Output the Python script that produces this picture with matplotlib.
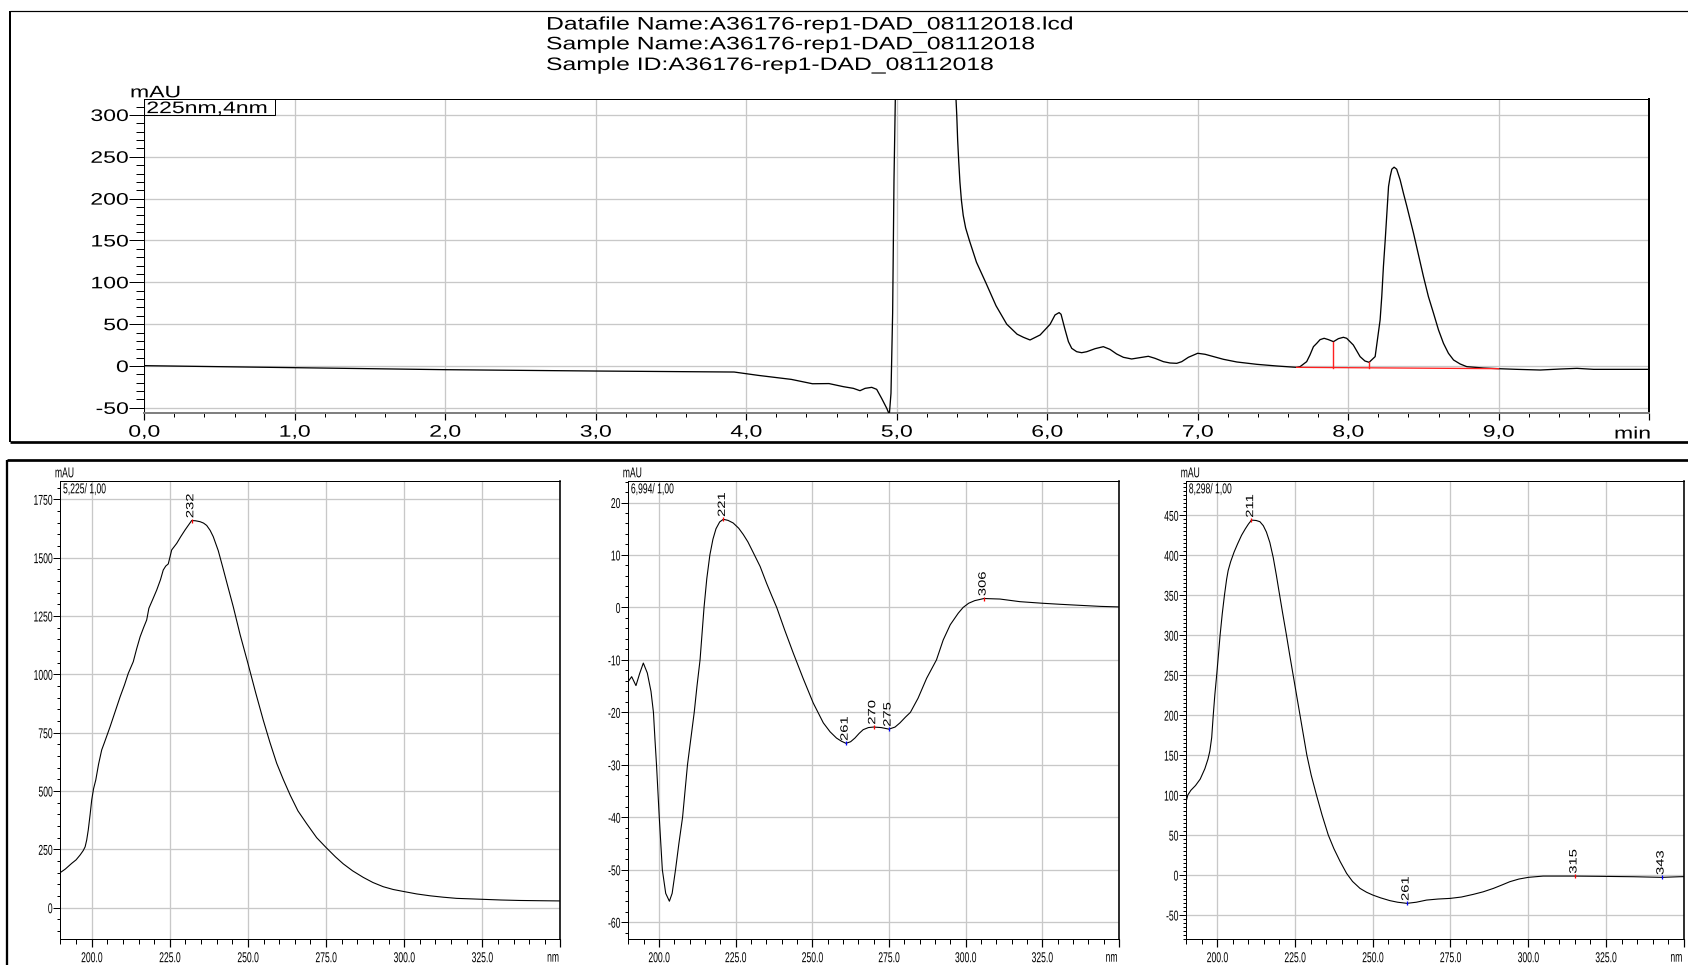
import numpy as np
import matplotlib
matplotlib.use("Agg")
import matplotlib.pyplot as plt
from matplotlib.patheffects import AbstractPathEffect
from matplotlib.transforms import Affine2D
from matplotlib.ticker import FixedLocator, MultipleLocator, FuncFormatter
from matplotlib.lines import Line2D
from matplotlib.patches import Rectangle

plt.rcParams['font.family'] = ['Liberation Sans', 'DejaVu Sans']
plt.rcParams['axes.unicode_minus'] = False

# ---------------- header ----------------
HEADER_LINES = [
    "Datafile Name:A36176-rep1-DAD_08112018.lcd",
    "Sample Name:A36176-rep1-DAD_08112018",
    "Sample ID:A36176-rep1-DAD_08112018",
]
CHANNEL_LABEL = "225nm,4nm"

# ---------------- chromatogram (min, mAU) ----------------
CHROM_T = [0.0, 0.48, 1.0, 2.0, 3.0, 3.92, 4.08, 4.30, 4.44, 4.55, 4.646, 4.712,
           4.756, 4.790, 4.834, 4.867, 4.900, 4.934, 4.951, 4.962, 4.973, 4.982,
           4.991, 5.0, 5.05, 5.1, 5.2, 5.3, 5.36, 5.394, 5.399, 5.405, 5.412,
           5.420, 5.430, 5.442, 5.458, 5.483, 5.53, 5.591, 5.66, 5.731, 5.80,
           5.842, 5.886, 5.953, 6.019, 6.052, 6.079, 6.092, 6.118, 6.141, 6.163,
           6.196, 6.229, 6.263, 6.318, 6.373, 6.417, 6.461, 6.506, 6.561, 6.617,
           6.672, 6.716, 6.772, 6.816, 6.861, 6.894, 6.938, 7.000, 7.049, 7.105,
           7.171, 7.260, 7.393, 7.526, 7.657, 7.680, 7.724, 7.746, 7.769, 7.791,
           7.813, 7.840, 7.869, 7.902, 7.935, 7.968, 7.990, 8.012, 8.034, 8.056,
           8.079, 8.111, 8.139, 8.179, 8.212, 8.223, 8.234, 8.246, 8.257, 8.268,
           8.279, 8.290, 8.305, 8.322, 8.345, 8.367, 8.390, 8.412, 8.434, 8.467,
           8.500, 8.533, 8.567, 8.600, 8.633, 8.666, 8.700, 8.744, 8.788, 8.899,
           8.999, 9.121, 9.276, 9.409, 9.520, 9.631, 9.786, 10.0]
CHROM_MAU = [0.4, -0.8, -2.0, -4.4, -6.0, -7.2, -11.2, -16.0, -21.2, -21.0, -24.7,
             -26.7, -29.5, -26.7, -25.5, -27.9, -38.7, -50.6, -58.0, -32.7, 63.0,
             222.0, 318.0, 420.0, 1050.0, 1420.0, 1560.0, 1100.0, 600.0, 319.0,
             300.0, 270.0, 245.0, 220.0, 198.0, 180.0, 165.0, 150.0, 124.0, 100.0,
             72.0, 50.0, 38.0, 34.3, 31.1, 37.1, 49.8, 61.0, 63.8, 61.8, 43.9, 29.1,
             21.1, 17.1, 15.9, 17.1, 20.7, 23.1, 19.9, 14.4, 10.4, 8.4, 10.0, 11.6,
             9.2, 5.2, 3.6, 3.2, 5.2, 10.4, 15.2, 14.0, 11.2, 8.0, 4.8, 2.0, 0.0,
             -1.6, -0.8, 5.2, 13.2, 23.1, 27.1, 31.5, 33.1, 31.5, 29.1, 32.7, 34.3,
             33.1, 29.1, 25.1, 18.3, 11.2, 6.0, 4.4, 11.2, 55.0, 83.0, 118.8, 150.7,
             182.6, 214.5, 226.5, 235.2, 237.6, 235.2, 222.5, 206.5, 190.6, 174.6,
             158.7, 132.8, 106.9, 82.9, 63.0, 43.1, 27.1, 15.2, 7.2, 2.4, -0.8,
             -2.4, -3.2, -4.0, -4.8, -3.6, -2.8, -4.0, -4.0, -4.0]

# integration baseline and peak drop lines
BASE_T = [7.657, 9.0]
BASE_MAU = [-1.6, -3.2]
DROP_T = [7.902, 8.139]

# ---------------- spectra (nm, mAU) ----------------
SPEC1_TITLE = "5,225/ 1,00"
SPEC1_NM = [190, 191.5, 193.6, 195, 196.3, 197.3, 197.9, 198.4, 198.9, 199.5, 200,
            200.6, 201.3, 202.2, 203.2, 204, 205.9, 207.5, 209.1, 210.5, 211.7,
            213.3, 214.4, 215.5, 216.6, 217.6, 218.3, 219.5, 220.8, 222, 222.9,
            223.7, 224.5, 225, 225.6, 227.2, 228.5, 229.9, 231, 232, 233.2, 234.7,
            235.8, 236.8, 237.9, 238.9, 240.5, 241.9, 243.5, 245.3, 247.5, 250,
            252.5, 254.9, 257, 259.2, 261.3, 263.5, 266, 268.8, 272, 275, 278,
            280.5, 283.5, 286.9, 290, 293.3, 296.5, 300, 304, 308.3, 312.5, 316.8,
            321, 325, 331, 337, 343, 350]
SPEC1_MAU = [151, 165, 190, 205, 226, 245, 261, 290, 333, 400, 461, 510, 547, 615,
             676, 705, 776, 840, 904, 955, 1004, 1054, 1110, 1161, 1200, 1233, 1283,
             1320, 1361, 1405, 1447, 1464, 1473, 1500, 1533, 1561, 1590, 1619, 1640,
             1659, 1658, 1654, 1648, 1638, 1617, 1590, 1530, 1461, 1380, 1290, 1170,
             1047, 920, 804, 710, 619, 550, 483, 415, 360, 300, 258, 218, 188, 158,
             130, 108, 90, 78, 69, 59, 51, 45, 40, 38, 36, 33, 31, 30, 29]
SPEC1_PEAKS = [232]
SPEC1_KIND = ['max']

SPEC2_TITLE = "6,994/ 1,00"
SPEC2_NM = [190, 191.1, 192.5, 193.7, 194.9, 196.2, 197.4, 198.2, 198.7, 199.2,
            200.1, 201.1, 202.2, 203.4, 204.3, 205.4, 206.5, 207.7, 209.3, 210.4,
            211.5, 212.4, 213.4, 214.7, 215.6, 216.6, 217.6, 218.6, 219.8, 221,
            222.5, 224.2, 226, 227.5, 229, 230.8, 233, 235.1, 236.8, 238.4, 241,
            243.8, 247, 250.3, 253.6, 255.8, 257.9, 259.5, 261, 262.5, 263.9, 265.3,
            266.6, 268.3, 270, 272.5, 275, 277, 278.6, 280.4, 282, 284.5, 287.3,
            290.5, 292.7, 295, 297.6, 299.2, 301, 303, 306, 311.2, 317.7, 325,
            330.8, 337.3, 344, 350]
SPEC2_MAU = [-14.1, -13.2, -14.9, -12.6, -10.6, -12.5, -16.0, -20.0, -25.2, -30.0,
             -40.0, -50.0, -54.5, -56.0, -54.5, -50.0, -45.0, -40.0, -30.0, -25.0,
             -20.0, -15.0, -10.0, 0.0, 5.5, 10.0, 13.0, 15.0, 16.3, 16.8, 16.6, 16.1,
             15.1, 13.9, 12.5, 10.4, 7.8, 4.6, 2.2, 0.0, -4.3, -8.7, -13.5, -18.2,
             -22.0, -23.7, -24.9, -25.5, -25.9, -25.6, -24.9, -24.0, -23.3, -22.9,
             -22.8, -22.9, -23.2, -22.8, -22.0, -20.9, -20.0, -17.3, -13.5, -10.0,
             -6.2, -3.3, -1.1, 0.0, 0.8, 1.3, 1.7, 1.6, 1.1, 0.8, 0.6, 0.4, 0.2, 0.1]
SPEC2_PEAKS = [221, 261, 270, 275, 306]
SPEC2_KIND = ['max', 'min', 'max', 'min', 'max']

SPEC3_TITLE = "8,298/ 1,00"
SPEC3_NM = [190, 190.5, 191.5, 193, 194.5, 196, 197, 197.6, 198.2, 198.7, 199.2,
            199.8, 200.4, 200.9, 201.6, 202.3, 203, 203.5, 204.3, 205.4, 206.5,
            207.8, 209, 210, 211, 212.5, 213.7, 214.8, 215.8, 216.9, 218, 219,
            219.8, 221, 222.2, 223.3, 224.4, 225.5, 226.6, 227.7, 228.8, 230.2,
            231.9, 233.7, 235.7, 237.5, 239.5, 241.6, 243.5, 245.9, 248, 250, 252.5,
            255.5, 258, 261, 264, 267.3, 271, 274.9, 278.5, 282.3, 285.5, 288.8,
            291.5, 294.1, 297, 300, 304.8, 315, 325, 333.8, 343, 348.8, 350]
SPEC3_MAU = [92, 100, 106, 112, 120, 133, 145, 155, 172, 200, 225, 250, 277, 300,
             327, 350, 370, 381, 392, 404, 414, 425, 433, 439, 444, 443.5, 442, 437,
             429, 416, 397, 375, 356, 328, 301, 275, 250, 225, 200, 175, 150, 125,
             100, 75, 50, 33, 17, 2, -8, -16.7, -21.5, -25, -28.5, -32, -34, -35.4,
             -34, -31.3, -30, -29.2, -27.5, -24.2, -21, -16.7, -12.5, -8.3, -5, -2.9,
             -1.3, -1.3, -1.7, -2.1, -2.9, -2.1, -2.0]
SPEC3_PEAKS = [211, 261, 315, 343]
SPEC3_KIND = ['max', 'min', 'max', 'min']

# ---------------- layout helpers (pixels) ----------------
W, H, DPI = 1688, 965, 100
PX = 72.0 / DPI  # points per pixel


def fx(px):
    return px / W


def fy(py):
    return 1.0 - py / H


class Stretch(AbstractPathEffect):
    """Scale glyph outlines along the writing direction of a text."""

    def __init__(self, sx, anchor='left'):
        super().__init__()
        self.sx = sx
        self.anchor = anchor

    def draw_path(self, renderer, gc, tpath, affine, rgbFace=None):
        if len(tpath.vertices) == 0:
            return
        ext = tpath.get_extents()
        x0 = {'left': 0.0,
              'center': 0.5 * (ext.x0 + ext.x1),
              'right': ext.x1}[self.anchor]
        pre = Affine2D().translate(-x0, 0).scale(self.sx, 1.0).translate(x0, 0)
        renderer.draw_path(gc, tpath, pre + affine, rgbFace)


TOP_FS, TOP_SX = 12.0, 1.38
HEAD_FS, HEAD_SX = 13.0, 1.37
BOT_FS, BOT_SX = 10.3, 0.60
PK_FS, PK_SX = 7.6, 1.4
GRID_C = '#c8c8c8'

fig = plt.figure(figsize=(W / DPI, H / DPI), dpi=DPI)
fig.patch.set_facecolor('white')


def frame_line(x0, y0, x1, y1, lw_px):
    fig.add_artist(Line2D([fx(x0), fx(x1)], [fy(y0), fy(y1)],
                          transform=fig.transFigure, color='black',
                          lw=lw_px * PX, solid_capstyle='butt'))


# report frames
frame_line(10, 11, 1700, 11, 1.2)
frame_line(10, 11, 10, 442, 2.0)
frame_line(10, 442, 1700, 442, 2.7)
frame_line(7.3, 460, 1700, 460, 2.7)
frame_line(7.3, 460, 7.3, 1000, 2.3)

# header text
for line, base in zip(HEADER_LINES, [29.5, 49.3, 70.0]):
    fig.text(fx(546.0), fy(base), line, fontsize=HEAD_FS, ha='left', va='baseline',
             path_effects=[Stretch(HEAD_SX, 'left')])

# ---------------- chromatogram ----------------
ax = fig.add_axes([fx(144.2), fy(412.7), 1505 / W, 313.4 / H])
ax.set_axisbelow(True)
ax.plot(CHROM_T, CHROM_MAU, color='black', lw=1.3 * PX, zorder=3)

ax.plot(BASE_T, BASE_MAU, color='#ff2020', lw=1.3 * PX, zorder=4)
for t in DROP_T:
    y_top = np.interp(t, CHROM_T, CHROM_MAU)
    y_bot = np.interp(t, BASE_T, BASE_MAU)
    ax.plot([t, t], [y_bot, y_top], color='#ff2020', lw=1.4 * PX, zorder=4)

ax.set_xlim(0, 10)
ax.set_ylim(-55.8, 318.7)
ax.xaxis.set_major_locator(FixedLocator(np.arange(0, 11, 1.0)))
ax.xaxis.set_minor_locator(MultipleLocator(0.2))
ax.yaxis.set_major_locator(FixedLocator(np.arange(-50, 301, 50)))
ax.yaxis.set_minor_locator(MultipleLocator(10))
ax.xaxis.set_major_formatter(FuncFormatter(
    lambda v, p: '' if v > 9.5 else f"{v:.1f}".replace('.', ',')))
ax.yaxis.set_major_formatter(FuncFormatter(lambda v, p: f"{v:.0f}"))
ax.grid(True, which='major', color=GRID_C, lw=1.3 * PX)
ax.tick_params(axis='y', which='major', direction='out', length=15 * PX,
               width=1.0 * PX, pad=0.5, labelsize=TOP_FS)
ax.tick_params(axis='y', which='minor', direction='out', length=8 * PX, width=1.0 * PX)
ax.tick_params(axis='x', which='major', direction='out', length=6.7 * PX,
               width=1.2 * PX, pad=3.8, labelsize=TOP_FS)
ax.tick_params(axis='x', which='minor', direction='out', length=4 * PX, width=1.0 * PX)
for side, lw_px, c in [('top', 1.0, 'black'), ('left', 1.0, 'black'),
                       ('right', 2.0, 'black'), ('bottom', 2.0, '#808080')]:
    ax.spines[side].set_linewidth(lw_px * PX)
    ax.spines[side].set_color(c)
for lab in ax.get_yticklabels():
    lab.set_path_effects([Stretch(TOP_SX, 'right')])
for lab in ax.get_xticklabels():
    lab.set_path_effects([Stretch(TOP_SX, 'center')])

ax.add_patch(Rectangle((0, 0.9499), 0.0869, 0.0501, transform=ax.transAxes,
                       fill=False, lw=1.0 * PX, ec='black', clip_on=False, zorder=5))
ax.text(0.0014, 0.9560, CHANNEL_LABEL, transform=ax.transAxes, fontsize=TOP_FS,
        ha='left', va='baseline', path_effects=[Stretch(TOP_SX, 'left')])
fig.text(fx(130), fy(97.3), "mAU", fontsize=TOP_FS, ha='left', va='baseline',
         path_effects=[Stretch(TOP_SX, 'left')])
fig.text(fx(1614), fy(438.5), "min", fontsize=TOP_FS, ha='left', va='baseline',
         path_effects=[Stretch(TOP_SX, 'left')])

# ---------------- spectra ----------------
panels = [
    dict(left=60.45, right=560.4, ylim=(-134.1, 1828.4), minor=50,
         ymaj=np.arange(0, 1751, 250), nm=SPEC1_NM, mau=SPEC1_MAU,
         peaks=SPEC1_PEAKS, kind=SPEC1_KIND, title=SPEC1_TITLE),
    dict(left=628.3, right=1118.9, ylim=(-63.2, 24.1), minor=2,
         ymaj=np.arange(-60, 21, 10), nm=SPEC2_NM, mau=SPEC2_MAU,
         peaks=SPEC2_PEAKS, kind=SPEC2_KIND, title=SPEC2_TITLE),
    dict(left=1186.2, right=1683.7, ylim=(-80.0, 492.9), minor=5,
         ymaj=np.arange(-50, 451, 50), nm=SPEC3_NM, mau=SPEC3_MAU,
         peaks=SPEC3_PEAKS, kind=SPEC3_KIND, title=SPEC3_TITLE),
]

for p in panels:
    bx = fig.add_axes([fx(p['left']), fy(939), (p['right'] - p['left']) / W, 458 / H])
    bx.set_axisbelow(True)
    bx.plot(p['nm'], p['mau'], color='black', lw=1.1 * PX, zorder=3)
    bx.set_xlim(190, 350)
    bx.set_ylim(*p['ylim'])
    bx.xaxis.set_major_locator(FixedLocator(np.arange(200, 351, 25)))
    bx.xaxis.set_minor_locator(MultipleLocator(5))
    bx.yaxis.set_major_locator(FixedLocator(p['ymaj']))
    bx.yaxis.set_minor_locator(MultipleLocator(p['minor']))
    bx.xaxis.set_major_formatter(FuncFormatter(
        lambda v, q: '' if v > 340 else f"{v:.1f}"))
    bx.yaxis.set_major_formatter(FuncFormatter(lambda v, q: f"{v:.0f}"))
    bx.grid(True, which='major', color=GRID_C, lw=1.3 * PX)
    bx.tick_params(axis='y', which='major', direction='out', length=7 * PX,
                   width=1.0 * PX, pad=0.5, labelsize=BOT_FS)
    bx.tick_params(axis='y', which='minor', direction='out', length=3.3 * PX,
                   width=1.0 * PX)
    bx.tick_params(axis='x', which='major', direction='out', length=8 * PX,
                   width=1.2 * PX, pad=3.0, labelsize=BOT_FS)
    bx.tick_params(axis='x', which='minor', direction='out', length=5 * PX,
                   width=1.0 * PX)
    for side in ['top', 'left', 'bottom']:
        bx.spines[side].set_linewidth(1.0 * PX)
    bx.spines['right'].set_linewidth(1.6 * PX)
    for lab in bx.get_yticklabels():
        lab.set_path_effects([Stretch(BOT_SX, 'right')])
    for lab in bx.get_xticklabels():
        lab.set_path_effects([Stretch(BOT_SX, 'center')])

    # peak markers with rotated wavelength labels
    for wl, kind in zip(p['peaks'], p['kind']):
        yv = np.interp(wl, p['nm'], p['mau'])
        col = '#ff0000' if kind == 'max' else '#0000ff'
        bx.plot([wl], [yv], ls='none', marker='|', ms=4 * PX, mew=1.3 * PX,
                color=col, zorder=4)
        bx.annotate(str(wl), xy=(wl, yv), xytext=(-1.0, 1.7),
                    textcoords='offset points', rotation=90, ha='center',
                    va='bottom', fontsize=PK_FS,
                    path_effects=[Stretch(PK_SX, 'left')])

    fig.text(fx(p['left'] - 5.5), fy(477.3), "mAU", fontsize=BOT_FS, ha='left',
             va='baseline', path_effects=[Stretch(BOT_SX, 'left')])
    fig.text(fx(p['left'] + 2.6), fy(493.3), p['title'], fontsize=BOT_FS,
             ha='left', va='baseline', path_effects=[Stretch(BOT_SX, 'left')])
    fig.text(fx(p['right'] - 1.0), fy(961.7), "nm", fontsize=BOT_FS, ha='right',
             va='baseline', path_effects=[Stretch(BOT_SX, 'right')])

fig.savefig("out.png", dpi=DPI, facecolor='white')
